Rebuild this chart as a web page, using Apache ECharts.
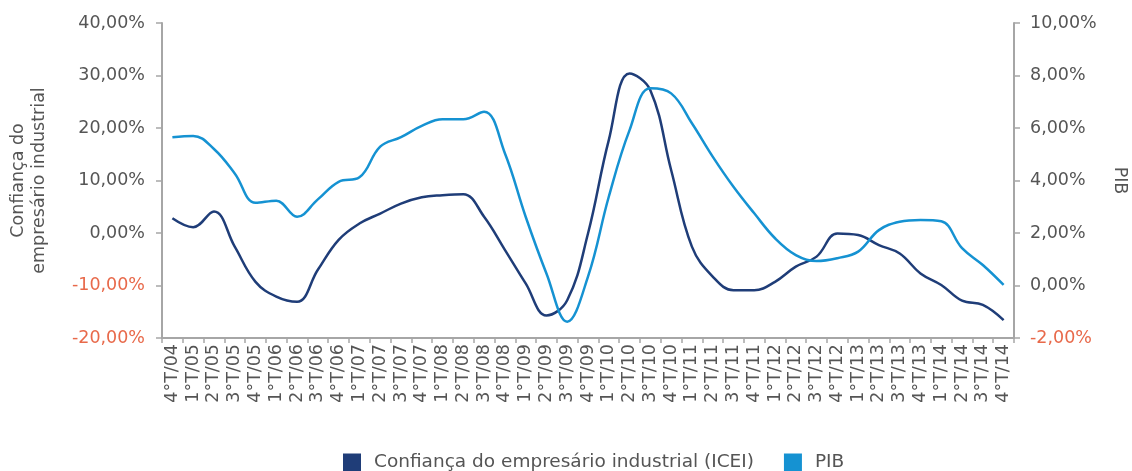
<!DOCTYPE html>
<html>
<head>
<meta charset="utf-8">
<script src="https://cdn.jsdelivr.net/npm/echarts@6/dist/echarts.min.js"></script>
<style>
  html, body { margin: 0; padding: 0; background: #fff; }
  #chart { width: 1132px; height: 471px; }
</style>
</head>
<body>
<div id="chart"></div>
<script>
  // quarters 4°T/04 .. 4°T/14
  const quarters = [
    '4°T/04',
    '1°T/05', '2°T/05', '3°T/05', '4°T/05',
    '1°T/06', '2°T/06', '3°T/06', '4°T/06',
    '1°T/07', '2°T/07', '3°T/07', '4°T/07',
    '1°T/08', '2°T/08', '3°T/08', '4°T/08',
    '1°T/09', '2°T/09', '3°T/09', '4°T/09',
    '1°T/10', '2°T/10', '3°T/10', '4°T/10',
    '1°T/11', '2°T/11', '3°T/11', '4°T/11',
    '1°T/12', '2°T/12', '3°T/12', '4°T/12',
    '1°T/13', '2°T/13', '3°T/13', '4°T/13',
    '1°T/14', '2°T/14', '3°T/14', '4°T/14'
  ];

  // Confiança do empresário industrial (ICEI), % — left axis
  const icei = [
    2.8, 1.1, 4.1, -2.6, -9.3, -12.1, -13.1, -7.0, -1.3, 1.8,
    3.7, 5.6, 6.8, 7.2, 7.4, 3.1, -3.2, -9.6, -15.7, -12.8,
    -0.1, 17.7, 30.4, 27.2, 12.0, -2.6, -8.3, -10.9, -10.9, -9.3,
    -6.4, -4.5, -0.1, -0.4, -2.3, -3.9, -7.7, -9.9, -12.9, -13.7,
    -16.6
  ];

  // PIB, % — right axis
  const pib = [
    5.65, 5.7, 5.2, 4.27, 3.15, 3.23, 2.62, 3.28, 3.95, 4.12,
    5.29, 5.65, 6.08, 6.33, 6.33, 6.62, 5.04, 2.62, 0.46, -1.38,
    0.34, 3.38, 5.92, 7.51, 7.32, 6.18, 4.91, 3.76, 2.75, 1.80,
    1.16, 0.93, 1.04, 1.29, 2.11, 2.43, 2.5, 2.45, 1.42, 0.78,
    0.02
  ];

  const leftTicks = { min: -20, max: 40, interval: 10 };
  const rightTicks = { min: -2, max: 10, interval: 2 };

  const FONT = 'DejaVu Sans, sans-serif';
  const FS = 17.5;
  const TXT = '#555555';
  const NEG = '#e8694a';
  const AXIS = '#a6a6a6';
  const C_ICEI = '#1f3d78';
  const C_PIB = '#1592d2';

  function pct(v) {
    const s = v.toFixed(2).replace('.', ',') + '%';
    return v < 0 ? '{neg|' + s + '}' : s;
  }

  const yLabel = {
    color: TXT, fontFamily: FONT, fontSize: FS,
    formatter: pct,
    rich: { neg: { color: NEG, fontFamily: FONT, fontSize: FS } }
  };

  const chart = echarts.init(document.getElementById('chart'), null, { renderer: 'canvas' });
  chart.setOption({
    animation: false,
    backgroundColor: '#fff',
    textStyle: { fontFamily: FONT },
    grid: { left: 162, right: 118, top: 23, bottom: 133, outerBoundsMode: 'none' },
    legend: {
      top: 453,
      left: 343,
      padding: 0,
      itemWidth: 18,
      itemHeight: 18,
      itemGap: 30,
      icon: 'rect',
      textStyle: { color: TXT, fontFamily: FONT, fontSize: 18.5, padding: [0, 0, 0, 8] },
      data: [
        { name: 'Confiança do empresário industrial (ICEI)', itemStyle: { color: C_ICEI } },
        { name: 'PIB', itemStyle: { color: C_PIB } }
      ]
    },
    xAxis: {
      type: 'category',
      data: quarters,
      boundaryGap: true,
      axisLine: { onZero: false, lineStyle: { color: AXIS, width: 2 } },
      axisTick: { show: true, length: 5, lineStyle: { color: AXIS, width: 1.5 } },
      axisLabel: { interval: 0, rotate: 90, margin: 6, color: TXT, fontFamily: FONT, fontSize: FS }
    },
    yAxis: [
      {
        type: 'value',
        min: leftTicks.min, max: leftTicks.max, interval: leftTicks.interval,
        name: 'Confiança do\nempresário industrial',
        nameLocation: 'middle',
        nameRotate: 90,
        nameGap: 112,
        nameTextStyle: { color: TXT, fontFamily: FONT, fontSize: FS, lineHeight: 21 },
        axisLine: { show: true, lineStyle: { color: AXIS, width: 2 } },
        axisTick: { show: true, length: 6, lineStyle: { color: AXIS, width: 1.5 } },
        axisLabel: Object.assign({ margin: 17 }, yLabel),
        splitLine: { show: false }
      },
      {
        type: 'value',
        position: 'right',
        min: rightTicks.min, max: rightTicks.max, interval: rightTicks.interval,
        name: 'PIB',
        nameLocation: 'middle',
        nameRotate: -90,
        nameGap: 97,
        nameTextStyle: { color: TXT, fontFamily: FONT, fontSize: FS },
        axisLine: { show: true, lineStyle: { color: AXIS, width: 2 } },
        axisTick: { show: true, length: 6, lineStyle: { color: AXIS, width: 1.5 } },
        axisLabel: Object.assign({ margin: 16 }, yLabel),
        splitLine: { show: false }
      }
    ],
    series: [
      {
        name: 'Confiança do empresário industrial (ICEI)',
        type: 'line',
        yAxisIndex: 0,
        data: icei,
        smooth: 0.4,
        symbol: 'none',
        lineStyle: { color: C_ICEI, width: 2.5 },
        itemStyle: { color: C_ICEI }
      },
      {
        name: 'PIB',
        type: 'line',
        yAxisIndex: 1,
        data: pib,
        smooth: 0.4,
        symbol: 'none',
        lineStyle: { color: C_PIB, width: 2.5 },
        itemStyle: { color: C_PIB }
      }
    ]
  });
</script>
</body>
</html>
